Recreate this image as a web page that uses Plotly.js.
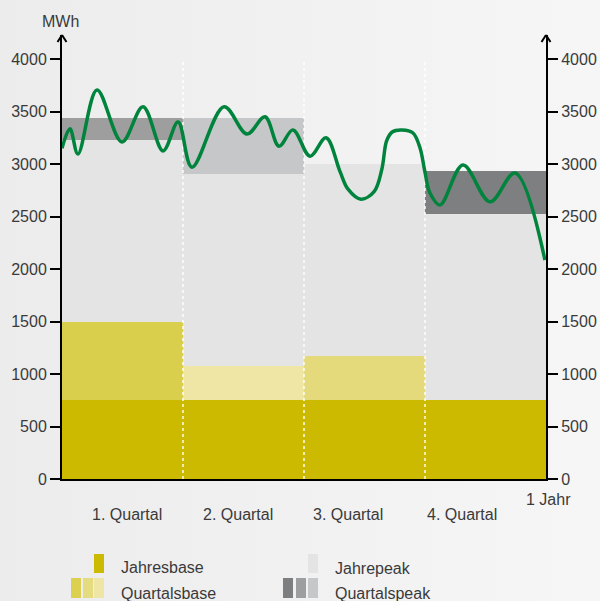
<!DOCTYPE html>
<html>
<head>
<meta charset="utf-8">
<script src="https://cdn.plot.ly/plotly-3.0.1.min.js"></script>
<style>
html,body{margin:0;padding:0;}
body{width:600px;height:601px;background:linear-gradient(to right,#ececec,#f6f6f6);overflow:hidden;}
#chart{width:600px;height:601px;}
</style>
</head>
<body>
<div id="chart"></div>
<script>
// ---- data ----
var quarters = ["1. Quartal", "2. Quartal", "3. Quartal", "4. Quartal"];
var yearLabel = "1 Jahr";
var unitLabel = "MWh";
var daysInYear = 365;
var quarterCenters = [45.625, 136.875, 228.125, 319.375];
var quarterBounds = [91.25, 182.5, 273.75];
var jahresbase = 750;
var quartalsbase = [1500, 1075, 1175, 750];
var peakFillTop = [3230, 2905, 3000, 2525];   // light grey (Jahrespeak) area per quarter
var quartalspeakLow = [3230, 2905, null, 2525];
var quartalspeakHigh = [3440, 3440, null, 2935];
var loadDays = [0, 6, 12, 26.4, 45.2, 61.1, 76.2, 87.5, 98, 122.2, 139.5, 153.1, 163.6, 174.2, 187, 199.1, 209.6, 215.7, 225.5, 235.5, 241.2, 244.8, 249, 256.4, 264.7, 270, 273.7, 277.5, 285.1, 302.4, 322.8, 341.6, 364.2];
var loadMWh  = [3150, 3335, 3095, 3705, 3210, 3545, 3125, 3400, 2970, 3545, 3285, 3450, 3170, 3325, 3075, 3250, 2930, 2760, 2665, 2740, 2950, 3220, 3305, 3324, 3295, 3152, 2924, 2724, 2610, 2990, 2640, 2915, 2085];
var yTicks = [0, 500, 1000, 1500, 2000, 2500, 3000, 3500, 4000];

// ---- colours ----
var cJahresbase = "#cbba00";
var cQbase = ["#dacf4c", "#efe5a5", "#e4da7c", "#dacf4c"];
var cLight = "#e3e4e3";
var cQpeak = ["#9e9e9f", "#c6c7c8", "#c6c7c8", "#7e7f81"];
var txt = "#3a3a3a";
var fontFam = "Liberation Sans, Arial, sans-serif";

var Q = quarters.length;
var qWidth = daysInYear / Q;
var traces = [];

// light grey Jahrespeak area
traces.push({type:"bar", x:quarterCenters, y:peakFillTop, base:[0,0,0,0], width:qWidth,
  marker:{color:cLight, line:{width:0}}, showlegend:false, hoverinfo:"skip"});
// quarterly peak bands
traces.push({type:"bar", x:quarterCenters,
  y:quartalspeakHigh.map(function(h,i){return h==null?null:h-quartalspeakLow[i];}),
  base:quartalspeakLow, width:qWidth,
  marker:{color:cQpeak, line:{width:0}}, showlegend:false, hoverinfo:"skip"});
// quarterly base
traces.push({type:"bar", x:quarterCenters, y:quartalsbase, base:[0,0,0,0], width:qWidth,
  marker:{color:cQbase, line:{width:0}}, showlegend:false, hoverinfo:"skip"});
// yearly base
traces.push({type:"bar", x:[daysInYear/2], y:[jahresbase], base:[0], width:daysInYear,
  marker:{color:cJahresbase, line:{width:0}}, showlegend:false, hoverinfo:"skip"});
// dotted quarter separators
var dx=[], dy=[];
quarterBounds.forEach(function(b){dx.push(b,b,null); dy.push(0,4000,null);});
traces.push({type:"scatter", mode:"lines", x:dx, y:dy,
  line:{color:"rgba(255,255,255,0.95)", width:1.5, dash:"dot"}, showlegend:false, hoverinfo:"skip"});
// load curve
traces.push({type:"scatter", mode:"lines", x:loadDays, y:loadMWh,
  line:{color:"#00843d", width:3.5, shape:"spline", smoothing:1.0}, showlegend:false, hoverinfo:"skip"});
// dummy for right axis
traces.push({type:"scatter", mode:"markers", x:[null], y:[null], yaxis:"y2", showlegend:false, hoverinfo:"skip"});

// ---- layout helpers (pixel -> paper) ----
var L=62, R=546, T=35, B=479;
function px(x){return (x-L)/(R-L);}
function py(y){return (B-y)/(B-T);}
var yTop = 4000 + (59-T)/((B-59)/4000);

var shapes = [];
var annotations = [];
// arrow heads
[L, R].forEach(function(ax){
  shapes.push({type:"line", xref:"paper", yref:"paper", x0:px(ax-4.5), y0:py(T+7), x1:px(ax), y1:py(T), line:{color:"#000", width:2}});
  shapes.push({type:"line", xref:"paper", yref:"paper", x0:px(ax+4.5), y0:py(T+7), x1:px(ax), y1:py(T), line:{color:"#000", width:2}});
});
// quarter labels
var qLabelPx = [127, 238, 348, 462];
quarters.forEach(function(q,i){
  annotations.push({text:q, xref:"paper", yref:"paper", x:px(qLabelPx[i]), y:py(514), xanchor:"center", yanchor:"middle",
    showarrow:false, font:{family:fontFam, size:16, color:txt}});
});
annotations.push({text:yearLabel, xref:"paper", yref:"paper", x:px(548), y:py(499), xanchor:"center", yanchor:"middle",
  showarrow:false, font:{family:fontFam, size:16, color:txt}});
annotations.push({text:unitLabel, xref:"paper", yref:"paper", x:px(60), y:py(21), xanchor:"center", yanchor:"middle",
  showarrow:false, font:{family:fontFam, size:16, color:txt}});

// legend
function rect(x0,x1,y0,y1,c){shapes.push({type:"rect", xref:"paper", yref:"paper", x0:px(x0), x1:px(x1), y0:py(y1), y1:py(y0), fillcolor:c, line:{width:0}});}
rect(94,104,554,573,cJahresbase);
rect(71,81,578,598,"#dcd14f"); rect(83,93,578,598,"#e5dc80"); rect(94,104,578,598,"#efe6a6");
rect(308,318,554,573,cLight);
rect(283,293,578,598,"#7d7e80"); rect(296,306,578,598,"#9d9e9f"); rect(308,318,578,598,"#c6c7c8");
var legendItems = [["Jahresbase",119,567],["Quartalsbase",119,593],["Jahrepeak",333,568],["Quartalspeak",333,593]];
legendItems.forEach(function(it){
  annotations.push({text:it[0], xref:"paper", yref:"paper", x:px(it[1]), y:py(it[2]), xanchor:"left", yanchor:"middle",
    showarrow:false, font:{family:fontFam, size:16, color:txt}});
});

var yaxisCommon = {range:[0,yTop], tickvals:yTicks, ticktext:yTicks.map(String), ticks:"outside", ticklen:10, tickwidth:2, tickcolor:"#000",
  showline:true, linecolor:"#000", linewidth:2, showgrid:false, zeroline:false, fixedrange:true,
  tickfont:{family:fontFam, size:16, color:txt}};

var layout = {
  width:600, height:601,
  margin:{l:L, r:600-R, t:T, b:601-B, pad:0},
  paper_bgcolor:"rgba(0,0,0,0)", plot_bgcolor:"rgba(0,0,0,0)",
  barmode:"overlay", bargap:0, hovermode:false, showlegend:false,
  xaxis:{range:[0,daysInYear], showline:true, linecolor:"#000", linewidth:2, showticklabels:false, ticks:"", showgrid:false, zeroline:false, fixedrange:true},
  yaxis:Object.assign({side:"left"}, yaxisCommon),
  yaxis2:Object.assign({side:"right", overlaying:"y"}, yaxisCommon),
  shapes:shapes, annotations:annotations
};

Plotly.newPlot("chart", traces, layout, {staticPlot:true, displayModeBar:false});
</script>
</body>
</html>
